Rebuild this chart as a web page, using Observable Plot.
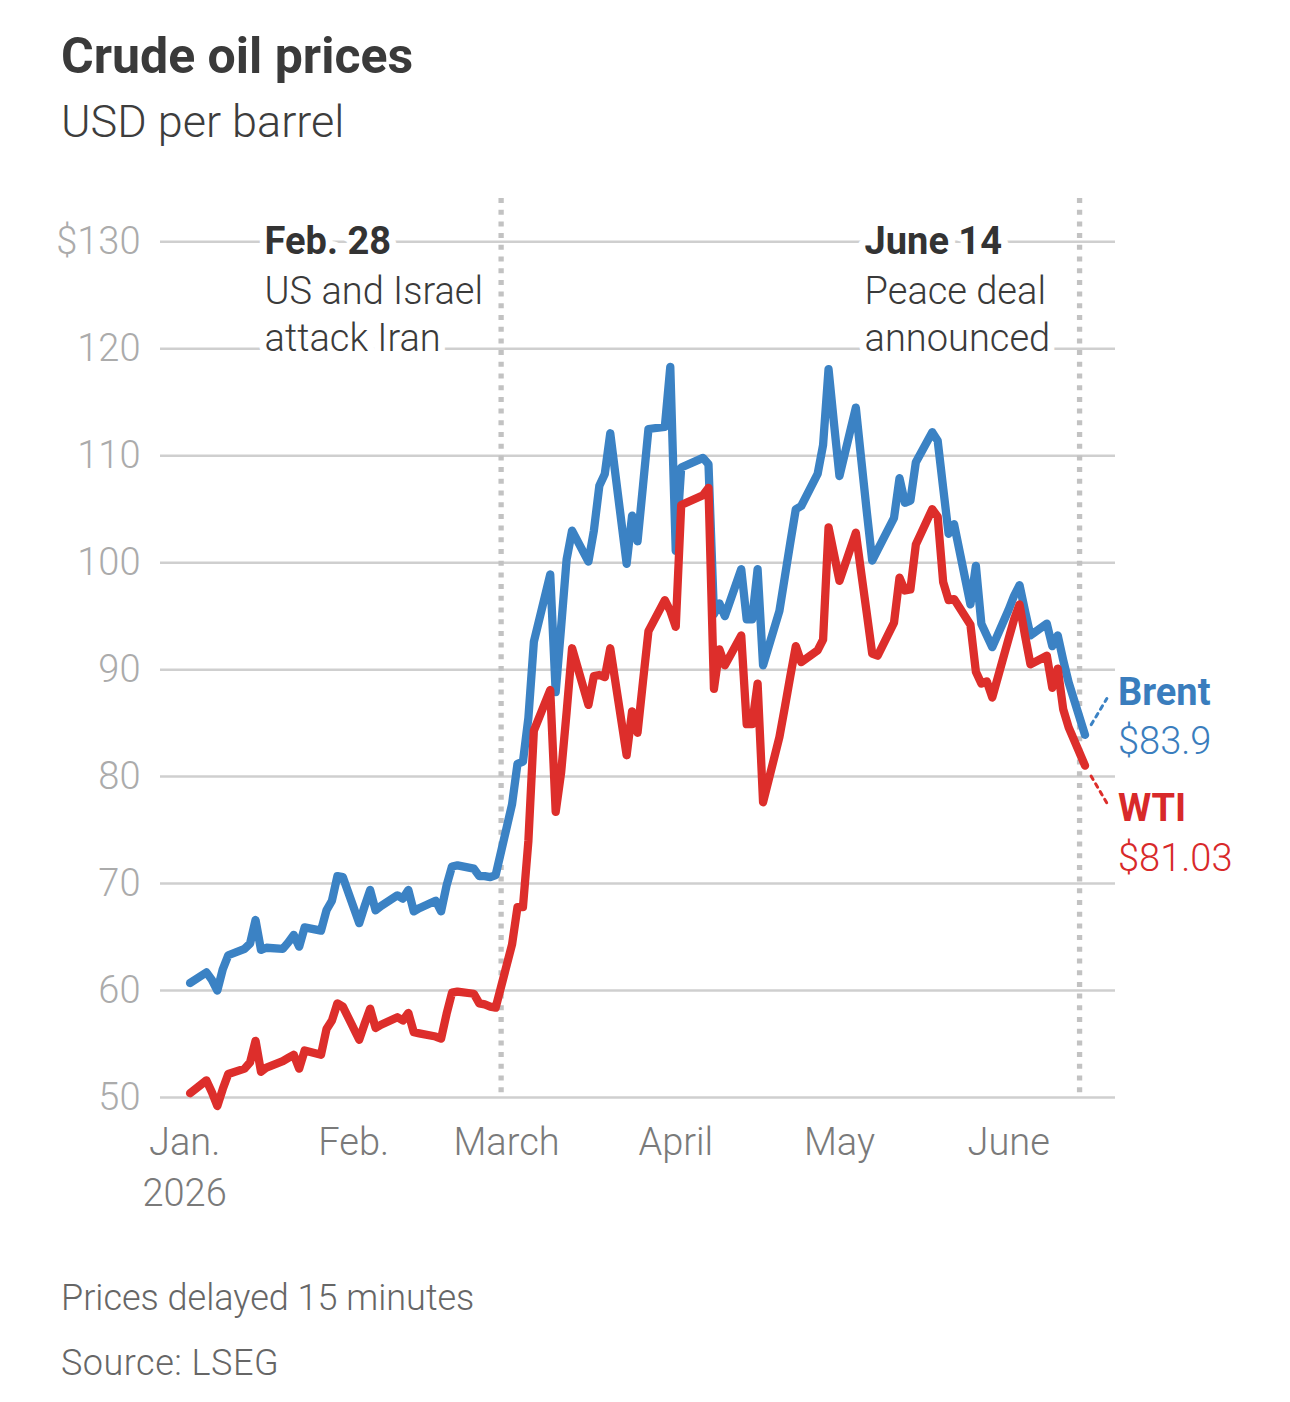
<!DOCTYPE html>
<html><head><meta charset="utf-8">
<script src="https://cdn.jsdelivr.net/npm/d3@7"></script>
<script src="https://cdn.jsdelivr.net/npm/@observablehq/plot@0.6"></script>
<style>
html,body{margin:0;padding:0;background:#fff;}
#page{position:relative;width:1290px;height:1402px;font-family:Roboto,"Noto Sans",sans-serif;}
.t{position:absolute;left:61px;line-height:1;white-space:nowrap;}
#title{top:31px;font-size:50px;font-weight:700;color:#3a3a3a;}
#subtitle{top:99px;font-size:45px;font-weight:300;color:#3d3d3d;}
#chart{position:absolute;left:0;top:180px;}
#note{top:1280px;font-size:36px;font-weight:300;color:#666;}
#source{top:1345px;font-size:36px;font-weight:300;color:#666;letter-spacing:0.5px;}
</style></head>
<body><div id="page">
<div id="title" class="t">Crude oil prices</div>
<div id="subtitle" class="t">USD per barrel</div>
<div id="chart"></div>
<div id="note" class="t">Prices delayed 15 minutes</div>
<div id="source" class="t">Source: LSEG</div>
</div>
<script>
const dates = [
"2026-01-02","2026-01-05","2026-01-06","2026-01-07","2026-01-08","2026-01-09","2026-01-12","2026-01-13","2026-01-14","2026-01-15","2026-01-16","2026-01-19","2026-01-20","2026-01-21","2026-01-22","2026-01-23","2026-01-26","2026-01-27","2026-01-28","2026-01-29","2026-01-30",
"2026-02-02","2026-02-03","2026-02-04","2026-02-05","2026-02-06","2026-02-09","2026-02-10","2026-02-11","2026-02-12","2026-02-13","2026-02-16","2026-02-17","2026-02-18","2026-02-19","2026-02-20","2026-02-23","2026-02-24","2026-02-25","2026-02-26","2026-02-27",
"2026-03-02","2026-03-03","2026-03-04","2026-03-05","2026-03-06","2026-03-09","2026-03-10","2026-03-11","2026-03-12","2026-03-13","2026-03-16","2026-03-17","2026-03-18","2026-03-19","2026-03-20","2026-03-23","2026-03-24","2026-03-25","2026-03-26","2026-03-27","2026-03-30","2026-03-31",
"2026-04-01","2026-04-02","2026-04-06","2026-04-07","2026-04-08","2026-04-09","2026-04-10","2026-04-13","2026-04-14","2026-04-15","2026-04-16","2026-04-17","2026-04-20","2026-04-21","2026-04-22","2026-04-23","2026-04-24","2026-04-27","2026-04-28","2026-04-29","2026-04-30",
"2026-05-01","2026-05-04","2026-05-05","2026-05-06","2026-05-07","2026-05-08","2026-05-11","2026-05-12","2026-05-13","2026-05-14","2026-05-15","2026-05-18","2026-05-19","2026-05-20","2026-05-21","2026-05-22","2026-05-25","2026-05-26","2026-05-27","2026-05-28","2026-05-29",
"2026-06-01","2026-06-02","2026-06-03","2026-06-04","2026-06-05","2026-06-08","2026-06-09","2026-06-10","2026-06-11","2026-06-12","2026-06-15"
];
const brent = [
60.7,61.7,61.0,60.0,62.0,63.3,63.9,64.4,66.6,63.8,64.0,63.9,64.5,65.2,64.1,65.9,65.6,67.5,68.4,70.7,70.6,
66.3,67.9,69.4,67.5,67.9,68.9,68.6,69.4,67.4,67.7,68.4,67.4,69.8,71.6,71.7,71.4,70.7,70.7,70.6,70.8,
77.4,81.2,81.4,85.5,92.6,98.9,87.9,94.0,100.3,103.0,100.1,103.0,107.2,108.3,112.1,99.9,104.4,102.0,107.2,112.5,112.7,118.3,
101.1,108.9,109.8,109.2,95.2,96.2,95.0,99.4,94.7,94.7,99.4,90.4,95.5,98.7,101.9,105.0,105.3,108.3,111.0,118.1,113.0,
108.1,114.5,109.6,104.8,100.2,101.2,104.2,107.9,105.6,105.8,109.4,112.2,111.4,107.0,102.7,103.6,96.1,99.7,94.3,93.2,92.1,
95.6,96.9,97.9,95.5,93.2,94.3,92.2,93.2,90.9,88.8,83.9
];
const wti = [
50.4,51.6,50.5,49.2,50.8,52.2,52.7,53.3,55.3,52.4,52.8,53.4,53.7,54.0,52.7,54.4,54.0,56.4,57.2,58.8,58.5,
55.4,56.9,58.3,56.5,56.8,57.5,57.2,57.9,56.1,56.0,55.7,55.5,57.8,59.8,59.9,59.7,58.8,58.7,58.5,58.4,
64.3,67.8,67.8,74.0,84.3,88.1,76.7,80.4,86.0,92.0,86.7,89.4,89.5,89.3,92.0,82.0,86.1,84.1,88.9,93.6,96.5,95.5,
94.0,105.4,106.3,107.0,88.2,91.9,90.4,93.2,84.9,84.9,88.7,77.6,83.7,86.5,89.4,92.2,90.7,91.8,92.8,103.3,100.8,
98.3,102.8,99.0,95.3,91.5,91.3,94.4,98.6,97.4,97.5,101.7,105.0,104.3,98.2,96.5,96.6,94.2,89.8,88.7,88.9,87.4,
92.9,94.7,96.1,93.2,90.5,91.3,88.3,90.1,86.3,84.6,81.03
];
const yTicks = [50,60,70,80,90,100,110,120,130];
const yTickLabels = ["50","60","70","80","90","100","110","120","$130"];
const monthTicks = ["2026-01-01","2026-02-01","2026-03-01","2026-04-01","2026-05-01","2026-06-01"];
const monthLabels = ["Jan.\n2026","Feb.","March","April","May","June"];
const eventDates = ["2026-02-28","2026-06-14"];
const eventTitles = ["Feb. 28","June 14"];
const eventTexts = ["US and Israel\nattack Iran","Peace deal\nannounced"];
const seriesNames = ["Brent","WTI"];

const parse = s => new Date(s + "T00:00:00Z");
const rows = dates.map((d, i) => ({date: parse(d), brent: brent[i], wti: wti[i]}));
const last = rows[rows.length - 1];
const events = eventDates.map((d, i) => ({date: parse(d), title: eventTitles[i], text: eventTexts[i]}));
const months = monthTicks.map(parse);
const topTick = yTicks[yTicks.length - 1];

const BLUE = "#3b82c4", RED = "#dd2e2b";
const BLUE_T = "#3a7dbd", RED_T = "#d8292a";
const FONT = "Roboto, 'Noto Sans', sans-serif";

function annotation(e, dx) {
  return [
    Plot.text([e], {x: "date", y: () => topTick, text: "title", dx, textAnchor: "start",
      fontSize: 38, fontWeight: 700, fill: "#333", stroke: "white", strokeWidth: 14,
      paintOrder: "stroke", strokeLinejoin: "round"}),
    Plot.text([e], {x: "date", y: () => topTick, text: "text", dx, dy: 70.5, textAnchor: "start",
      lineHeight: 1.237, fontSize: 38, fontWeight: 300, fill: "#3a3a3a", stroke: "white", strokeWidth: 14,
      paintOrder: "stroke", strokeLinejoin: "round"})
  ];
}

const chart = Plot.plot({
  width: 1290, height: 1060,
  marginLeft: 160, marginRight: 175, marginTop: 18, marginBottom: 143,
  style: {fontFamily: FONT, background: "transparent", overflow: "visible"},
  x: {type: "utc", domain: [new Date("2025-12-27T14:00:00Z"), new Date("2026-06-20T14:00:00Z")], axis: null},
  y: {domain: [50, 134.05], axis: null},
  marks: [
    Plot.ruleY(yTicks, {stroke: "#cfcfcf", strokeWidth: 2.5}),
    Plot.text(yTicks, {y: d => d, text: (d, i) => yTickLabels[i], frameAnchor: "left", textAnchor: "end",
      dx: -20, fill: "#ababab", fontSize: 38, fontWeight: 300}),
    Plot.text(months, {x: d => d, text: (d, i) => monthLabels[i], frameAnchor: "bottom", lineAnchor: "top",
      dy: 21, fill: "#7a7a7a", fontSize: 38, fontWeight: 300, lineHeight: 1.34}),
    ...annotation(events[0], -236.5),
    ...annotation(events[1], -215),
    Plot.ruleX(events, {x: "date", stroke: "#c2c2c2", strokeWidth: 5.3, strokeDasharray: "5,6.7"}),
    Plot.line(rows, {x: "date", y: "brent", stroke: BLUE, strokeWidth: 8.3, strokeLinejoin: "round", strokeLinecap: "round"}),
    Plot.line(rows, {x: "date", y: "wti", stroke: RED, strokeWidth: 8.3, strokeLinejoin: "round", strokeLinecap: "round"}),
    Plot.arrow([last], {x1: "date", y1: "brent", x2: d => d3.utcDay.offset(d.date, 4), y2: d => d.brent + 3.4,
      headLength: 0, insetStart: 12, stroke: BLUE, strokeWidth: 3, strokeDasharray: "4,5"}),
    Plot.arrow([last], {x1: "date", y1: "wti", x2: d => d3.utcDay.offset(d.date, 4), y2: d => d.wti - 3.5,
      headLength: 0, insetStart: 12, stroke: RED, strokeWidth: 3, strokeDasharray: "4,5"}),
    Plot.text([last], {x: "date", y: "brent", text: () => seriesNames[0], dx: 33, dy: -42, textAnchor: "start",
      fontSize: 38, fontWeight: 700, fill: BLUE_T}),
    Plot.text([last], {x: "date", y: "brent", text: d => "$" + d.brent, dx: 33, dy: 7, textAnchor: "start",
      fontSize: 38, fontWeight: 300, fill: BLUE_T}),
    Plot.text([last], {x: "date", y: "wti", text: () => seriesNames[1], dx: 33, dy: 43, textAnchor: "start",
      fontSize: 38, fontWeight: 700, fill: RED_T}),
    Plot.text([last], {x: "date", y: "wti", text: d => "$" + d.wti, dx: 33, dy: 93, textAnchor: "start",
      fontSize: 38, fontWeight: 300, fill: RED_T})
  ]
});
document.getElementById("chart").appendChild(chart);
</script>
</body></html>
